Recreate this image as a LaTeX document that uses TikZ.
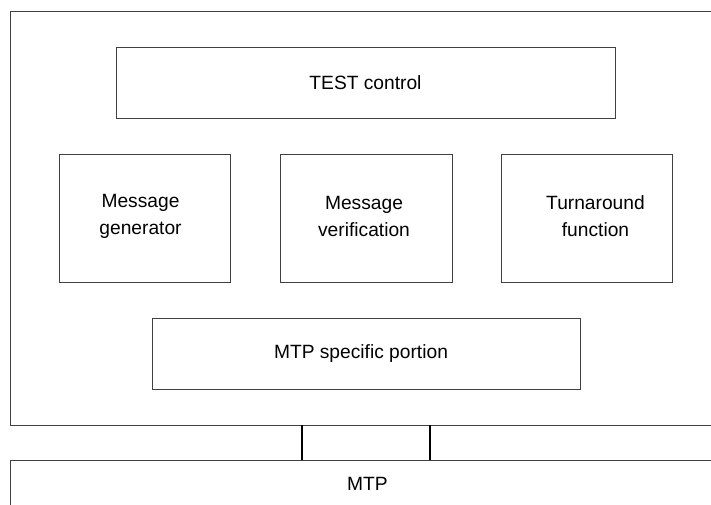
\documentclass[tikz,border=0pt]{standalone}
\usepackage{fontspec}
\setmainfont{Liberation Sans}
\begin{document}
\begin{tikzpicture}[x=1pt,y=-1pt,
  box/.style={draw=black!75, line width=0.8pt, rectangle, inner sep=0pt, align=center,
    font=\fontsize{19.2}{27}\selectfont},
  link/.style={draw=black, line width=1.1pt}]
\useasboundingbox (0,0) rectangle (711,504);
\clip (0,0) rectangle (711,504);
% outer container (extends beyond right edge)
\node[box, anchor=north west, minimum width=720, minimum height=413.5] (outer) at (10,11) {};
\node[box, minimum width=499, minimum height=71] (test) at (365.5,82.5) {TEST control};
\node[box, minimum width=171, minimum height=128] (gen) at (144.5,218) {};
\node[font=\fontsize{19.2}{27}\selectfont, align=center] (gent) at (140.5,216) {Message\\generator};
\node[box, minimum width=172, minimum height=128] (ver) at (366,218) {};
\node[font=\fontsize{19.2}{27}\selectfont, align=center] (vert) at (364,216) {Message\\verification};
\node[box, minimum width=171, minimum height=128] (turn) at (586.5,218) {};
\node[font=\fontsize{19.2}{27}\selectfont, align=center] (turnt) at (595.5,216) {Turnaround\\function};
\node[box, minimum width=428, minimum height=71] (spec) at (366,353.5) {};
\node[font=\fontsize{19.2}{27}\selectfont] (spect) at (361,353.5) {MTP specific portion};
% MTP (extends beyond right and bottom edges)
\node[box, anchor=north west, minimum width=720, minimum height=60] (mtp) at (10,460) {};
\node[font=\fontsize{19.2}{27}\selectfont] (mtpt) at (367.5,484) {MTP};
\draw[link] (302,0 |- outer.south) -- (302,0 |- mtp.north);
\draw[link] (430,0 |- outer.south) -- (430,0 |- mtp.north);
\end{tikzpicture}
\end{document}
